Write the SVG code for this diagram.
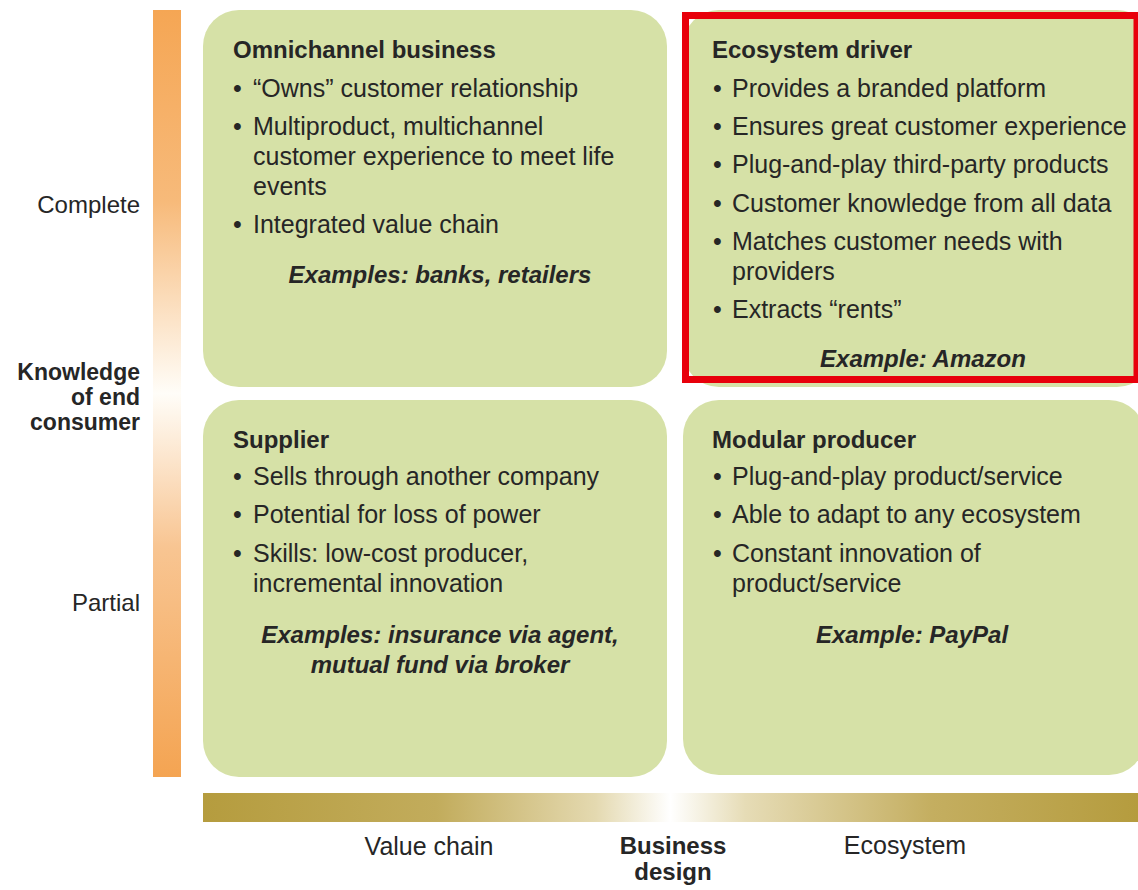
<svg xmlns="http://www.w3.org/2000/svg" width="1138" height="890" viewBox="0 0 1138 890">
<defs>
<linearGradient id="vbar" x1="0" y1="0" x2="0" y2="1">
<stop offset="0" stop-color="#F5A654"/>
<stop offset="0.25" stop-color="#F7BA7A"/>
<stop offset="0.5" stop-color="#FFFDF8"/>
<stop offset="0.7" stop-color="#F8C592"/>
<stop offset="1" stop-color="#F4A452"/>
</linearGradient>
<linearGradient id="hbar" x1="0" y1="0" x2="1" y2="0">
<stop offset="0" stop-color="#B59C3E"/>
<stop offset="0.25" stop-color="#C2AC5C"/>
<stop offset="0.42" stop-color="#E4D9B0"/>
<stop offset="0.5" stop-color="#FFFFFF"/>
<stop offset="0.58" stop-color="#E6DCB6"/>
<stop offset="0.78" stop-color="#C4AE60"/>
<stop offset="1" stop-color="#B59C3E"/>
</linearGradient>
</defs>
<style>
.box{fill:#D6E1A7;}
.t{font-family:"Liberation Sans",Arial,sans-serif;fill:#262626;}
.h{font-size:24px;font-weight:bold;}
.b{font-size:25px;}
.ex{font-size:24px;font-weight:bold;font-style:italic;text-anchor:middle;}
.ax{font-size:24px;}
.axb{font-size:23px;font-weight:bold;}
</style>
<rect width="1138" height="890" fill="#FFFFFF"/>
<g id="axis-y">
<rect x="153" y="10" width="28" height="767" fill="url(#vbar)"/>
<text class="t ax" x="140" y="213" text-anchor="end">Complete</text>
<text class="t axb" x="140" y="380" text-anchor="end">Knowledge</text>
<text class="t axb" x="140" y="405" text-anchor="end">of end</text>
<text class="t axb" x="140" y="430" text-anchor="end">consumer</text>
<text class="t ax" x="140" y="611" text-anchor="end">Partial</text>
</g>
<g id="axis-x">
<rect x="203" y="793" width="935" height="29" fill="url(#hbar)"/>
<text class="t ax" x="429" y="855" text-anchor="middle" style="font-size:25px">Value chain</text>
<text class="t axb" x="673" y="854" text-anchor="middle" style="font-size:24px">Business</text>
<text class="t axb" x="673" y="880" text-anchor="middle" style="font-size:24px">design</text>
<text class="t ax" x="905" y="854" text-anchor="middle" style="font-size:25px">Ecosystem</text>
</g>
<g id="omnichannel">
<rect class="box" x="203" y="10" width="464" height="377" rx="36"/>
<text class="t h" x="233" y="58">Omnichannel business</text>
<text class="t b" x="233" y="97">•</text><text class="t b" x="253" y="97">“Owns” customer relationship</text>
<text class="t b" x="233" y="135">•</text><text class="t b" x="253" y="135">Multiproduct, multichannel</text>
<text class="t b" x="253" y="165">customer experience to meet life</text>
<text class="t b" x="253" y="195">events</text>
<text class="t b" x="233" y="233">•</text><text class="t b" x="253" y="233">Integrated value chain</text>
<text class="t ex" x="440" y="283">Examples: banks, retailers</text>
</g>
<g id="ecosystem-driver">
<rect class="box" x="683" y="10" width="470" height="377" rx="36"/>
<rect x="685.5" y="15.5" width="451.5" height="364" fill="none" stroke="#E8000B" stroke-width="7"/>
<text class="t h" x="712" y="58">Ecosystem driver</text>
<text class="t b" x="713" y="97">•</text><text class="t b" x="732" y="97">Provides a branded platform</text>
<text class="t b" x="713" y="135">•</text><text class="t b" x="732" y="135">Ensures great customer experience</text>
<text class="t b" x="713" y="173">•</text><text class="t b" x="732" y="173">Plug-and-play third-party products</text>
<text class="t b" x="713" y="212">•</text><text class="t b" x="732" y="212">Customer knowledge from all data</text>
<text class="t b" x="713" y="250">•</text><text class="t b" x="732" y="250">Matches customer needs with</text>
<text class="t b" x="732" y="280">providers</text>
<text class="t b" x="713" y="318">•</text><text class="t b" x="732" y="318">Extracts “rents”</text>
<text class="t ex" x="923" y="367">Example: Amazon</text>
</g>
<g id="supplier">
<rect class="box" x="203" y="400" width="464" height="377" rx="36"/>
<text class="t h" x="233" y="448">Supplier</text>
<text class="t b" x="233" y="485">•</text><text class="t b" x="253" y="485">Sells through another company</text>
<text class="t b" x="233" y="523">•</text><text class="t b" x="253" y="523">Potential for loss of power</text>
<text class="t b" x="233" y="562">•</text><text class="t b" x="253" y="562">Skills: low-cost producer,</text>
<text class="t b" x="253" y="592">incremental innovation</text>
<text class="t ex" x="440" y="643">Examples: insurance via agent,</text>
<text class="t ex" x="440" y="673">mutual fund via broker</text>
</g>
<g id="modular-producer">
<rect class="box" x="683" y="400" width="462" height="375" rx="36"/>
<text class="t h" x="712" y="448">Modular producer</text>
<text class="t b" x="713" y="485">•</text><text class="t b" x="732" y="485">Plug-and-play product/service</text>
<text class="t b" x="713" y="523">•</text><text class="t b" x="732" y="523">Able to adapt to any ecosystem</text>
<text class="t b" x="713" y="562">•</text><text class="t b" x="732" y="562">Constant innovation of</text>
<text class="t b" x="732" y="592">product/service</text>
<text class="t ex" x="912" y="643">Example: PayPal</text>
</g>
<g id="connectors"/>
</svg>
